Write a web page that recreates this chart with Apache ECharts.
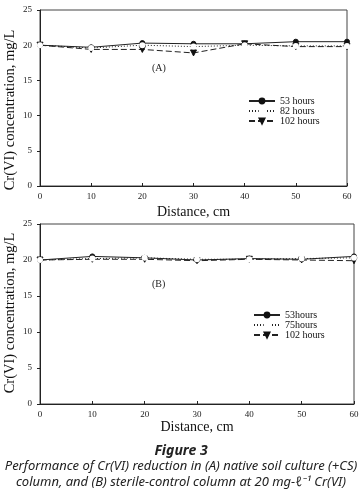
<!DOCTYPE html>
<html>
<head>
<meta charset="utf-8">
<script src="https://cdn.jsdelivr.net/npm/echarts@6/dist/echarts.min.js"></script>
<style>
  html, body { margin: 0; padding: 0; background: #fff; }
  #main { width: 362px; height: 501px; }
</style>
</head>
<body>
<div id="main"></div>
<script>
// distance along the column, cm
var distance = [0, 10, 20, 30, 40, 50, 60];

// (A) native soil culture
var a53 = [20.0, 19.7, 20.3, 20.2, 20.2, 20.5, 20.5];
var a82 = [20.0, 19.6, 20.0, 19.8, 20.0, 19.9, 19.9];
var a102 = [20.0, 19.4, 19.4, 18.9, 20.2, 19.8, 19.8];

// (B) sterile control
var b53 = [20.0, 20.5, 20.3, 20.0, 20.2, 20.1, 20.5];
var b75 = [20.0, 20.2, 20.3, 20.1, 20.1, 20.2, 20.3];
var b102 = [20.0, 20.1, 20.1, 19.9, 20.1, 20.0, 19.9];

var yTicks = [0, 5, 10, 15, 20, 25];

var serif = '"Liberation Serif", "DejaVu Serif", serif';
var sans = '"Noto Sans", sans-serif';
var myChart = echarts.init(document.getElementById('main'));

function pairs(vals) {
    var out = [];
    for (let i = 0; i < distance.length; i++) {
        out.push([distance[i], vals[i]]);
    }
    return out;
}

function xAx(idx, gap) {
    return {
        gridIndex: idx, type: 'value', min: 0, max: 60, interval: 10,
        name: 'Distance, cm', nameLocation: 'middle', nameGap: gap,
        nameTextStyle: { fontFamily: serif, fontSize: 14, color: '#111' },
        axisLine: { lineStyle: { color: '#222' } },
        axisTick: { inside: true, length: 3, lineStyle: { color: '#222' } },
        axisLabel: { fontFamily: serif, fontSize: 9, color: '#222', margin: 6 },
        splitLine: { show: false }
    };
}

function yAx(idx) {
    return {
        gridIndex: idx, type: 'value', min: yTicks[0], max: yTicks[yTicks.length - 1], interval: 5,
        axisLine: { show: true, lineStyle: { color: '#222' } },
        axisTick: { show: true, length: 3, lineStyle: { color: '#222' } },
        axisLabel: { fontFamily: serif, fontSize: 9, color: '#222', margin: 8 },
        splitLine: { show: false }
    };
}

function ser(name, idx, vals, kind) {
    var s = {
        name: name, type: 'line', xAxisIndex: idx, yAxisIndex: idx,
        data: pairs(vals), symbolSize: 5,
        lineStyle: { color: '#222', width: 1 },
        itemStyle: { color: '#111', borderColor: '#111', borderWidth: 1 },
        z: 3
    };
    if (kind === 'solid') {
        s.symbol = 'circle';
    } else if (kind === 'dotted') {
        s.symbol = 'emptyCircle';
        s.symbolSize = 4;
        s.lineStyle.type = [1, 2];
        s.itemStyle.color = '#fff';
        s.z = 4;
    } else {
        s.symbol = 'triangle';
        s.symbolRotate = 180;
        s.symbolSize = 6;
        s.lineStyle.type = [6, 3];
    }
    return s;
}

var legendText = { fontFamily: serif, fontSize: 10, color: '#111', lineHeight: 9 };

function yTitle(cy) {
    return {
        type: 'text', x: 10, y: cy, rotation: Math.PI / 2,
        style: {
            text: 'Cr(VI) concentration, mg/L', font: '14.5px ' + serif, fill: '#111',
            align: 'center', verticalAlign: 'middle'
        }
    };
}

var option = {
    backgroundColor: '#fff',
    animation: false,
    grid: [
        { left: 40, top: 10, width: 307, height: 176, show: true, borderColor: '#444', borderWidth: 1 },
        { left: 40, top: 224, width: 314, height: 180, show: true, borderColor: '#444', borderWidth: 1 }
    ],
    xAxis: [xAx(0, 19), xAx(1, 15)],
    yAxis: [yAx(0), yAx(1)],
    legend: [
        {
            left: 243, top: 91, orient: 'vertical', itemGap: 0, itemWidth: 26, itemHeight: 6,
            data: ['53 hours', '82 hours', '102 hours'], textStyle: legendText
        },
        {
            left: 248, top: 305, orient: 'vertical', itemGap: 0, itemWidth: 26, itemHeight: 6,
            data: ['53hours', '75hours', '102 hours '], textStyle: legendText
        }
    ],
    graphic: [
        yTitle(110),
        yTitle(313),
        { type: 'text', left: 152, top: 63, style: { text: '(A)', font: '10px ' + serif, fill: '#222' } },
        { type: 'text', left: 152, top: 279, style: { text: '(B)', font: '10px ' + serif, fill: '#222' } },
        { type: 'text', left: 'center', top: 444, style: { text: 'Figure 3', font: 'italic bold 14px ' + sans, fill: '#222' } },
        { type: 'text', left: 'center', top: 460, style: { text: 'Performance of Cr(VI) reduction in (A) native soil culture (+CS)', font: 'italic 13px ' + sans, fill: '#222' } },
        { type: 'text', left: 'center', top: 476, style: { text: 'column, and (B) sterile-control column at 20 mg-\u2113\u207B\u00B9 Cr(VI)', font: 'italic 13px ' + sans, fill: '#222' } }
    ],
    series: [
        ser('53 hours', 0, a53, 'solid'),
        ser('82 hours', 0, a82, 'dotted'),
        ser('102 hours', 0, a102, 'dashed'),
        ser('53hours', 1, b53, 'solid'),
        ser('75hours', 1, b75, 'dotted'),
        ser('102 hours ', 1, b102, 'dashed')
    ]
};

option && myChart.setOption(option);
</script>
</body>
</html>
